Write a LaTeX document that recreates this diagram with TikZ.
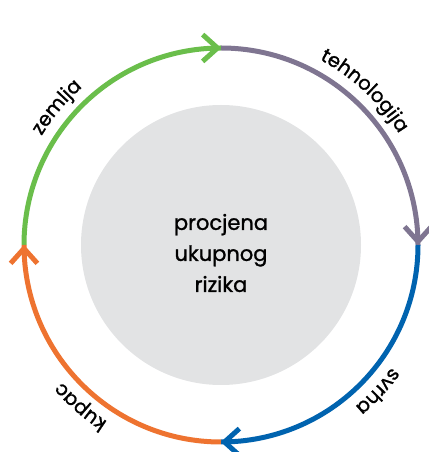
\documentclass[tikz,border=0pt]{standalone}
\usepackage{fontspec}
\setmainfont{Poppins}[FakeBold=1.2]
\usetikzlibrary{calc,decorations.text}
\definecolor{cgreen}{HTML}{6ABE4B}
\definecolor{cpurple}{HTML}{7F7591}
\definecolor{cblue}{HTML}{0063AF}
\definecolor{corange}{HTML}{EE7330}
\definecolor{cgray}{HTML}{E2E3E4}
\newcommand\labfont{\fontsize{19.5}{19.5}\selectfont}
\tikzset{
  ring/.style={line width=5pt, line cap=butt},
  chev/.style={line width=5pt, line join=miter, line cap=butt},
  lab/.style={decorate, decoration={text along path, text align=center, text={#1}}},
  core/.style={circle, fill=cgray, minimum size=280pt, inner sep=0pt},
  title/.style={font=\fontsize{21}{31}\selectfont, align=center}
}
\begin{document}
\begin{tikzpicture}[x=1pt,y=1pt]
\useasboundingbox (0,0) rectangle (428,452);
\coordinate (C) at (221,207);
\coordinate (T) at ($(C)+(90:197)$);
\coordinate (Rt) at ($(C)+(0:197)$);
\coordinate (B) at ($(C)+(-90:197)$);
\coordinate (L) at ($(C)+(180:197)$);
% inner disc and title
\node[core] (disc) at (C) {};
\node[title] (txt) at (221,199) {procjena\\ukupnog\\rizika};
% ring arcs
\draw[ring, cgreen] (L) arc[start angle=180, end angle=90, radius=197];
\draw[ring, cpurple] (T) arc[start angle=90, end angle=0, radius=197];
\draw[ring, cblue] (Rt) arc[start angle=0, end angle=-90, radius=197];
\draw[ring, corange] (B) arc[start angle=-90, end angle=-180, radius=197];
% chevrons
\coordinate (Tv) at ($(T)+(180:3.5)$);
\coordinate (Rv) at ($(Rt)+(90:3.5)$);
\coordinate (Bv) at ($(B)+(0:3.5)$);
\coordinate (Lv) at ($(L)+(-90:3.5)$);
\draw[chev, cgreen] ($(Tv)+(180-42:20)$) -- (Tv) -- ($(Tv)+(180+42:20)$);
\draw[chev, cpurple] ($(Rv)+(90-42:20)$) -- (Rv) -- ($(Rv)+(90+42:20)$);
\draw[chev, cblue] ($(Bv)+(-42:20)$) -- (Bv) -- ($(Bv)+(42:20)$);
\draw[chev, corange] ($(Lv)+(-90-42:20)$) -- (Lv) -- ($(Lv)+(-90+42:20)$);
% labels along the ring
\path[lab={|\labfont|zemlja}] (C) ++(170:210) arc[start angle=170, end angle=110, radius=210];
\path[lab={|\labfont|tehnologija}] (C) ++(82:210) arc[start angle=82, end angle=12, radius=210];
\path[lab={|\labfont|svrha}] (C) ++(-13:210) arc[start angle=-13, end angle=-73, radius=210];
\path[lab={|\labfont|kupac}] (C) ++(-101:210) arc[start angle=-101, end angle=-161, radius=210];
\end{tikzpicture}
\end{document}
